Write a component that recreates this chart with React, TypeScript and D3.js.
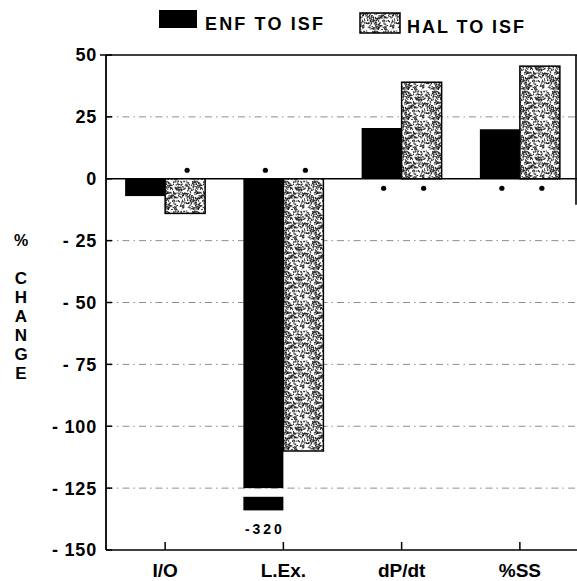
import React from "react";
import * as d3 from "d3";

// chart data
const categories = ["I/O", "L.Ex.", "dP/dt", "%SS"];
const seriesNames = ["ENF TO ISF", "HAL TO ISF"];
const enfValues = [-7, -320, 20.5, 20];
const halValues = [-14, -110, 39, 45.5];
const enfSig = [false, true, true, true];
const halSig = [true, true, true, true];
const yTicks = [50, 25, 0, -25, -50, -75, -100, -125, -150];
const gridValues = [25, -25, -50, -75, -100, -125];
const axisFloor = -125; // bars beyond this are drawn broken
const breakStub = [-128.5, -134];

const W = 577;
const H = 581;
const FONT = "'Liberation Sans', Arial, Helvetica, sans-serif";

// deterministic stipple texture for the HAL bars
function makeStipple(n: number, size: number) {
  let s = 987654;
  const rnd = () => {
    s = (s * 1103515245 + 12345) % 2147483648;
    return s / 2147483648;
  };
  const dots: { x: number; y: number; w: number; h: number }[] = [];
  for (let i = 0; i < n; i++) {
    const horiz = rnd() > 0.5;
    dots.push({
      x: rnd() * size,
      y: rnd() * size,
      w: horiz ? 1.6 : 0.9,
      h: horiz ? 0.9 : 1.6,
    });
  }
  return dots;
}
const TILE = 30;
const stipple = makeStipple(330, TILE);

export default function App() {
  const left = 106;
  const right = 577;
  const top = 55;
  const bottom = 550;

  const y = d3.scaleLinear().domain([-150, 50]).range([bottom, top]);
  const x = d3.scaleBand().domain(categories).range([left, 579]);
  const xs = d3.scaleBand().domain(seriesNames).range([-40, 40]);

  const y0 = y(0);
  const fmt = (d: number) => (d < 0 ? `- ${Math.abs(d)}` : `${d}`);

  const bars = categories.flatMap((c, i) => [
    { cat: c, series: seriesNames[0], value: enfValues[i], sig: enfSig[i] },
    { cat: c, series: seriesNames[1], value: halValues[i], sig: halSig[i] },
  ]);

  return (
    <svg
      width={W}
      height={H}
      style={{ position: "absolute", left: 0, top: 0, background: "#fff" }}
      fontFamily={FONT}
    >
      <defs>
        <pattern id="stipple" width={TILE} height={TILE} patternUnits="userSpaceOnUse">
          <rect width={TILE} height={TILE} fill="#fff" />
          {stipple.map((d, i) => (
            <rect key={i} x={d.x} y={d.y} width={d.w} height={d.h} fill="#1a1a1a" />
          ))}
        </pattern>
      </defs>

      {/* legend */}
      <rect x={159} y={10} width={38} height={18} fill="#000" />
      <text x={205} y={30} fontSize={18} fontWeight="bold" textLength={118} lengthAdjust="spacing">
        {seriesNames[0]}
      </text>
      <rect x={360} y={13} width={40} height={20} fill="url(#stipple)" stroke="#000" strokeWidth={1.5} />
      <text x={407} y={33} fontSize={18} fontWeight="bold" textLength={117} lengthAdjust="spacing">
        {seriesNames[1]}
      </text>

      {/* grid lines */}
      {gridValues.map((v) => (
        <line
          key={v}
          x1={left}
          x2={right}
          y1={y(v)}
          y2={y(v)}
          stroke="#333"
          strokeWidth={1}
          strokeDasharray="7 4 1.5 4"
          opacity={0.55}
        />
      ))}

      {/* zero line */}
      <line x1={left} x2={right} y1={y0} y2={y0} stroke="#000" strokeWidth={1.6} />

      {/* bars */}
      {bars.map((b, i) => {
        const bx = (x(b.cat) as number) + x.bandwidth() / 2 + (xs(b.series) as number);
        const bw = xs.bandwidth();
        const v = Math.max(b.value, axisFloor);
        const isEnf = b.series === seriesNames[0];
        return (
          <g key={i}>
            <rect
              x={bx}
              y={Math.min(y(v), y0)}
              width={bw}
              height={Math.abs(y(v) - y0)}
              fill={isEnf ? "#000" : "url(#stipple)"}
              stroke={isEnf ? "none" : "#000"}
              strokeWidth={1.5}
            />
            {b.value < axisFloor && (
              <>
                <rect
                  x={bx}
                  y={y(breakStub[0])}
                  width={bw}
                  height={y(breakStub[1]) - y(breakStub[0])}
                  fill="#000"
                />
                <text
                  x={bx + bw / 2}
                  y={y(-141.5)}
                  dy="0.36em"
                  textAnchor="middle"
                  fontSize={14}
                  fontWeight="bold"
                  textLength={37}
                  lengthAdjust="spacing"
                >
                  {b.value}
                </text>
              </>
            )}
            {b.sig && (
              <circle cx={bx + bw / 2 + 2} cy={b.value < 0 ? y0 - 8.5 : y0 + 9.5} r={2.6} fill="#000" />
            )}
          </g>
        );
      })}

      {/* frame */}
      <line x1={100} x2={right} y1={top} y2={top} stroke="#000" strokeWidth={1.6} />
      <line x1={left} x2={left} y1={top} y2={bottom} stroke="#000" strokeWidth={1.8} />
      <line x1={left} x2={right} y1={bottom} y2={bottom} stroke="#000" strokeWidth={1.6} />
      <line x1={576} x2={576} y1={top} y2={y0 + 26} stroke="#000" strokeWidth={1.6} />

      {/* y axis */}
      {yTicks.map((t) => (
        <g key={t} transform={`translate(0,${y(t)})`}>
          <line x1={left} x2={left + 6} stroke="#000" strokeWidth={1.5} />
          <text x={97} dy="0.36em" textAnchor="end" fontSize={18} fontWeight="bold" letterSpacing={0.8}>
            {fmt(t)}
          </text>
        </g>
      ))}

      {/* x axis */}
      {categories.map((c) => {
        const cx = (x(c) as number) + x.bandwidth() / 2;
        return (
          <g key={c}>
            <line x1={cx} x2={cx} y1={bottom} y2={bottom - 8} stroke="#000" strokeWidth={1.5} />
            <text x={cx} y={577} textAnchor="middle" fontSize={19} fontWeight="bold">
              {c}
            </text>
          </g>
        );
      })}

      {/* y axis title, stacked letters */}
      <text x={21} y={240} dy="0.36em" textAnchor="middle" fontSize={16} fontWeight="bold">
        %
      </text>
      {"CHANGE".split("").map((ch, i) => (
        <text key={i} x={21} y={278 + i * 19} dy="0.36em" textAnchor="middle" fontSize={17} fontWeight="bold">
          {ch}
        </text>
      ))}
    </svg>
  );
}
